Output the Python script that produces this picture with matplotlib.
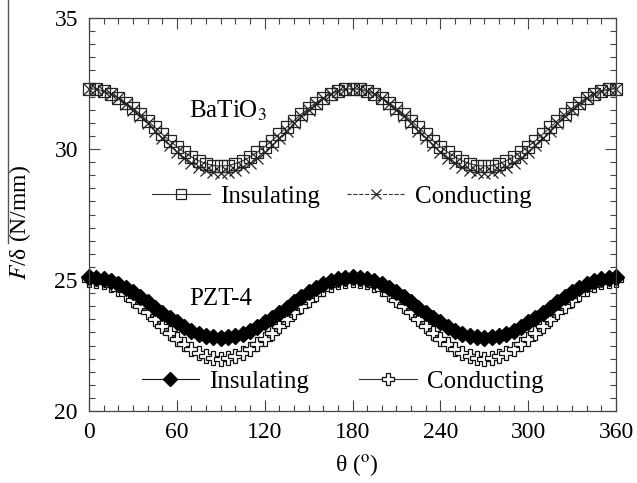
import matplotlib
matplotlib.use("Agg")
import matplotlib.pyplot as plt
from matplotlib.lines import Line2D

plt.rcParams['font.family'] = ['Liberation Serif', 'DejaVu Serif']
plt.rcParams['mathtext.fontset'] = 'stix'

# angle (degrees), 5 degree steps
theta = list(range(0, 361, 5))

# BaTiO3
bt_ins = [32.30, 32.28, 32.21, 32.10, 31.95, 31.77, 31.56, 31.33, 31.08, 30.83,
          30.57, 30.32, 30.09, 29.88, 29.70, 29.55, 29.44, 29.37, 29.35,
          29.37, 29.44, 29.55, 29.70, 29.88, 30.09, 30.32, 30.57, 30.83,
          31.08, 31.33, 31.56, 31.77, 31.95, 32.10, 32.21, 32.28, 32.30,
          32.28, 32.21, 32.10, 31.95, 31.77, 31.56, 31.33, 31.08, 30.83,
          30.57, 30.32, 30.09, 29.88, 29.70, 29.55, 29.44, 29.37, 29.35,
          29.37, 29.44, 29.55, 29.70, 29.88, 30.09, 30.32, 30.57, 30.83,
          31.08, 31.33, 31.56, 31.77, 31.95, 32.10, 32.21, 32.28, 32.30]
bt_con = [32.30, 32.28, 32.20, 32.09, 31.93, 31.73, 31.50, 31.25, 30.98, 30.70,
          30.42, 30.15, 29.90, 29.67, 29.47, 29.31, 29.20, 29.12, 29.10,
          29.12, 29.20, 29.31, 29.47, 29.67, 29.90, 30.15, 30.42, 30.70,
          30.98, 31.25, 31.50, 31.73, 31.93, 32.09, 32.20, 32.28, 32.30,
          32.28, 32.20, 32.09, 31.93, 31.73, 31.50, 31.25, 30.98, 30.70,
          30.42, 30.15, 29.90, 29.67, 29.47, 29.31, 29.20, 29.12, 29.10,
          29.12, 29.20, 29.31, 29.47, 29.67, 29.90, 30.15, 30.42, 30.70,
          30.98, 31.25, 31.50, 31.73, 31.93, 32.09, 32.20, 32.28, 32.30]

# PZT-4
pzt_ins = [25.10, 25.08, 25.03, 24.95, 24.83, 24.69, 24.53, 24.34, 24.15, 23.95,
           23.75, 23.56, 23.38, 23.21, 23.07, 22.95, 22.87, 22.82, 22.80,
           22.82, 22.87, 22.95, 23.07, 23.21, 23.38, 23.56, 23.75, 23.95,
           24.15, 24.34, 24.53, 24.69, 24.83, 24.95, 25.03, 25.08, 25.10,
           25.08, 25.03, 24.95, 24.83, 24.69, 24.53, 24.34, 24.15, 23.95,
           23.75, 23.56, 23.38, 23.21, 23.07, 22.95, 22.87, 22.82, 22.80,
           22.82, 22.87, 22.95, 23.07, 23.21, 23.38, 23.56, 23.75, 23.95,
           24.15, 24.34, 24.53, 24.69, 24.83, 24.95, 25.03, 25.08, 25.10]
pzt_con = [25.00, 24.98, 24.91, 24.80, 24.65, 24.46, 24.25, 24.01, 23.76, 23.50,
           23.24, 22.99, 22.75, 22.54, 22.35, 22.20, 22.09, 22.02, 22.00,
           22.02, 22.09, 22.20, 22.35, 22.54, 22.75, 22.99, 23.24, 23.50,
           23.76, 24.01, 24.25, 24.46, 24.65, 24.80, 24.91, 24.98, 25.00,
           24.98, 24.91, 24.80, 24.65, 24.46, 24.25, 24.01, 23.76, 23.50,
           23.24, 22.99, 22.75, 22.54, 22.35, 22.20, 22.09, 22.02, 22.00,
           22.02, 22.09, 22.20, 22.35, 22.54, 22.75, 22.99, 23.24, 23.50,
           23.76, 24.01, 24.25, 24.46, 24.65, 24.80, 24.91, 24.98, 25.00]

xticks = [0, 60, 120, 180, 240, 300, 360]
yticks = [20, 25, 30, 35]

fig = plt.figure(figsize=(6.37, 4.83), dpi=100)
ax = fig.add_axes([89 / 637, 1 - 411 / 483, 527 / 637, 393 / 483])

l1, = ax.plot(theta, bt_ins, '-', color='#333333', lw=0.8, marker='s',
              ms=9, mfc='none', mec='#222222', mew=0.9, clip_on=False)
l2, = ax.plot(theta, bt_con, '--', color='#333333', lw=0.8, marker='x',
              ms=8, mec='#222222', mew=0.9, clip_on=False)
l3, = ax.plot(theta, pzt_con, '-', color='#333333', lw=0.8, marker='P',
              ms=10.5, mfc='white', mec='#111111', mew=0.9, clip_on=False)
l4, = ax.plot(theta, pzt_ins, '-', color='#111111', lw=0.8, marker='D',
              ms=8, mfc='black', mec='black', clip_on=False)

ax.set_xlim(0, 360)
ax.set_ylim(20, 35)
ax.set_xticks(xticks)
ax.set_yticks(yticks)
ax.set_xticks(range(0, 361, 10), minor=True)
ax.set_yticks([20 + 0.5 * i for i in range(31)], minor=True)
ax.tick_params(which='both', direction='in', top=True, right=True,
               labelsize=17, color='#444444')
ax.tick_params(which='major', length=8, width=0.8, pad=8)
ax.tick_params(which='minor', length=4, width=0.8)
for s in ax.spines.values():
    s.set_color('#444444')
    s.set_linewidth(0.9)

ax.set_xlabel('θ ($^{\\mathrm{o}}$)', fontsize=17)
ax.xaxis.set_label_coords(0.508, -0.105)
ax.set_ylabel('$\\it{F}$/δ (N/mm)', fontsize=17)
ax.yaxis.set_label_coords(-0.106, 0.48)

ax.text(68.5, 31.18, 'BaTiO$_3$', fontsize=18, va='baseline')
ax.text(68.5, 24.05, 'PZT-4', fontsize=18, va='baseline')

leg1 = ax.legend([l1, l2], ['Insulating', 'Conducting'], ncol=2, frameon=False,
                 loc='center left', bbox_to_anchor=(0.12, 0.545), fontsize=18,
                 handlelength=2.3, handletextpad=0.4, columnspacing=1.1,
                 borderpad=0, borderaxespad=0, markerscale=0.85)
ax.add_artist(leg1)
ax.legend([l4, l3], ['Insulating', 'Conducting'], ncol=2, frameon=False,
          loc='center left', bbox_to_anchor=(0.1, 0.075), fontsize=18,
          handlelength=2.3, handletextpad=0.4, columnspacing=2.0,
          borderpad=0, borderaxespad=0, markerscale=0.85)

# stray overline from the label in the original scan
fig.add_artist(Line2D([8 / 637, 8 / 637], [1, 1 - 243 / 483],
                      color='#555555', lw=1.0))

fig.savefig('out.png', dpi=100)
